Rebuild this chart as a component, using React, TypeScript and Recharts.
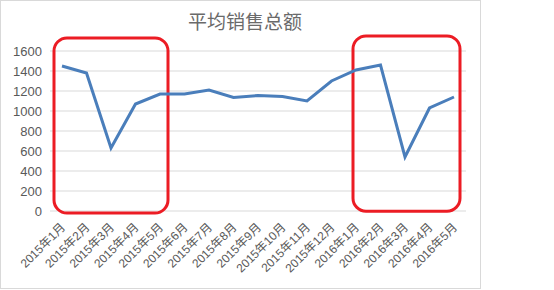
import { LineChart, Line, XAxis, YAxis, CartesianGrid, ReferenceArea } from 'recharts';

const months = [
  '2015年1月', '2015年2月', '2015年3月', '2015年4月', '2015年5月', '2015年6月',
  '2015年7月', '2015年8月', '2015年9月', '2015年10月', '2015年11月', '2015年12月',
  '2016年1月', '2016年2月', '2016年3月', '2016年4月', '2016年5月',
];
const avgSales = [1450, 1380, 630, 1070, 1170, 1170, 1210, 1135, 1155, 1145, 1100, 1300, 1410, 1460, 540, 1030, 1140];
const yTicks = [0, 200, 400, 600, 800, 1000, 1200, 1400, 1600];

// highlighted ranges (red boxes)
const boxFrom = ['2015年1月', '2016年1月'];
const boxTo = ['2015年5月', '2016年5月'];
const boxLow = [-20, -2];
const boxHigh = [1730, 1750];
const boxPad = [[8, 8], [3, 6]];

const data = months.map((m, i) => ({ month: m, value: avgSales[i] }));

const FONT = '"Liberation Sans", Arial, "Noto Sans CJK SC", sans-serif';
const GRAY = '#595959';

const XTick = ({ x, y, payload }: any) => {
  const ax = x + 4;
  const ay = y + 9;
  return (
    <text x={ax} y={ay} transform={`rotate(-45 ${ax} ${ay})`} textAnchor="end" fontSize={12} fill={GRAY} fontFamily={FONT}>
      {payload.value}
    </text>
  );
};

const RoundBox = (props: any) => {
  const { x, y, width, height, padL, padR } = props;
  return (
    <rect
      x={x - padL}
      y={y}
      width={width + padL + padR}
      height={height}
      rx={13}
      ry={13}
      fill="none"
      stroke="#ec1c24"
      strokeWidth={3}
    />
  );
};

export default function App() {
  return (
    <div style={{ position: 'absolute', left: 0, top: 0, width: 481, height: 289, background: '#fff' }}>
      <div
        style={{
          position: 'absolute', left: 145, top: 11, width: 200, textAlign: 'center',
          fontSize: 19, lineHeight: '19px', color: '#6a6a6a', fontFamily: '"Noto Sans CJK SC", sans-serif',
        }}
      >
        平均销售总额
      </div>
      <div style={{ position: 'absolute', left: 0, top: 0 }}>
        <LineChart width={481} height={289} data={data} margin={{ top: 51, right: 15, left: 0, bottom: 0 }}>
          <CartesianGrid vertical={false} stroke="#d9d9d9" />
          <XAxis
            dataKey="month"
            interval={0}
            height={78}
            padding={{ left: 12, right: 12 }}
            axisLine={false}
            tickLine={false}
            tick={<XTick />}
          />
          <YAxis
            width={50}
            domain={[0, 1600]}
            ticks={yTicks}
            interval={0}
            axisLine={false}
            tickLine={false}
            tick={{ fontSize: 13, fill: GRAY, fontFamily: FONT }}
          />
          <Line type="linear" dataKey="value" stroke="#4a7ebb" strokeWidth={3} dot={false} isAnimationActive={false} />
          {boxFrom.map((f, i) => (
            <ReferenceArea
              key={f}
              x1={f}
              x2={boxTo[i]}
              y1={boxLow[i]}
              y2={boxHigh[i]}
              ifOverflow="visible"
              shape={(p: any) => <RoundBox {...p} padL={boxPad[i][0]} padR={boxPad[i][1]} />}
            />
          ))}
        </LineChart>
      </div>
      <div style={{ position: 'absolute', left: 0, top: 0, width: 481, height: 289, boxSizing: 'border-box', border: '1px solid #d9d9d9', pointerEvents: 'none' }} />
    </div>
  );
}
